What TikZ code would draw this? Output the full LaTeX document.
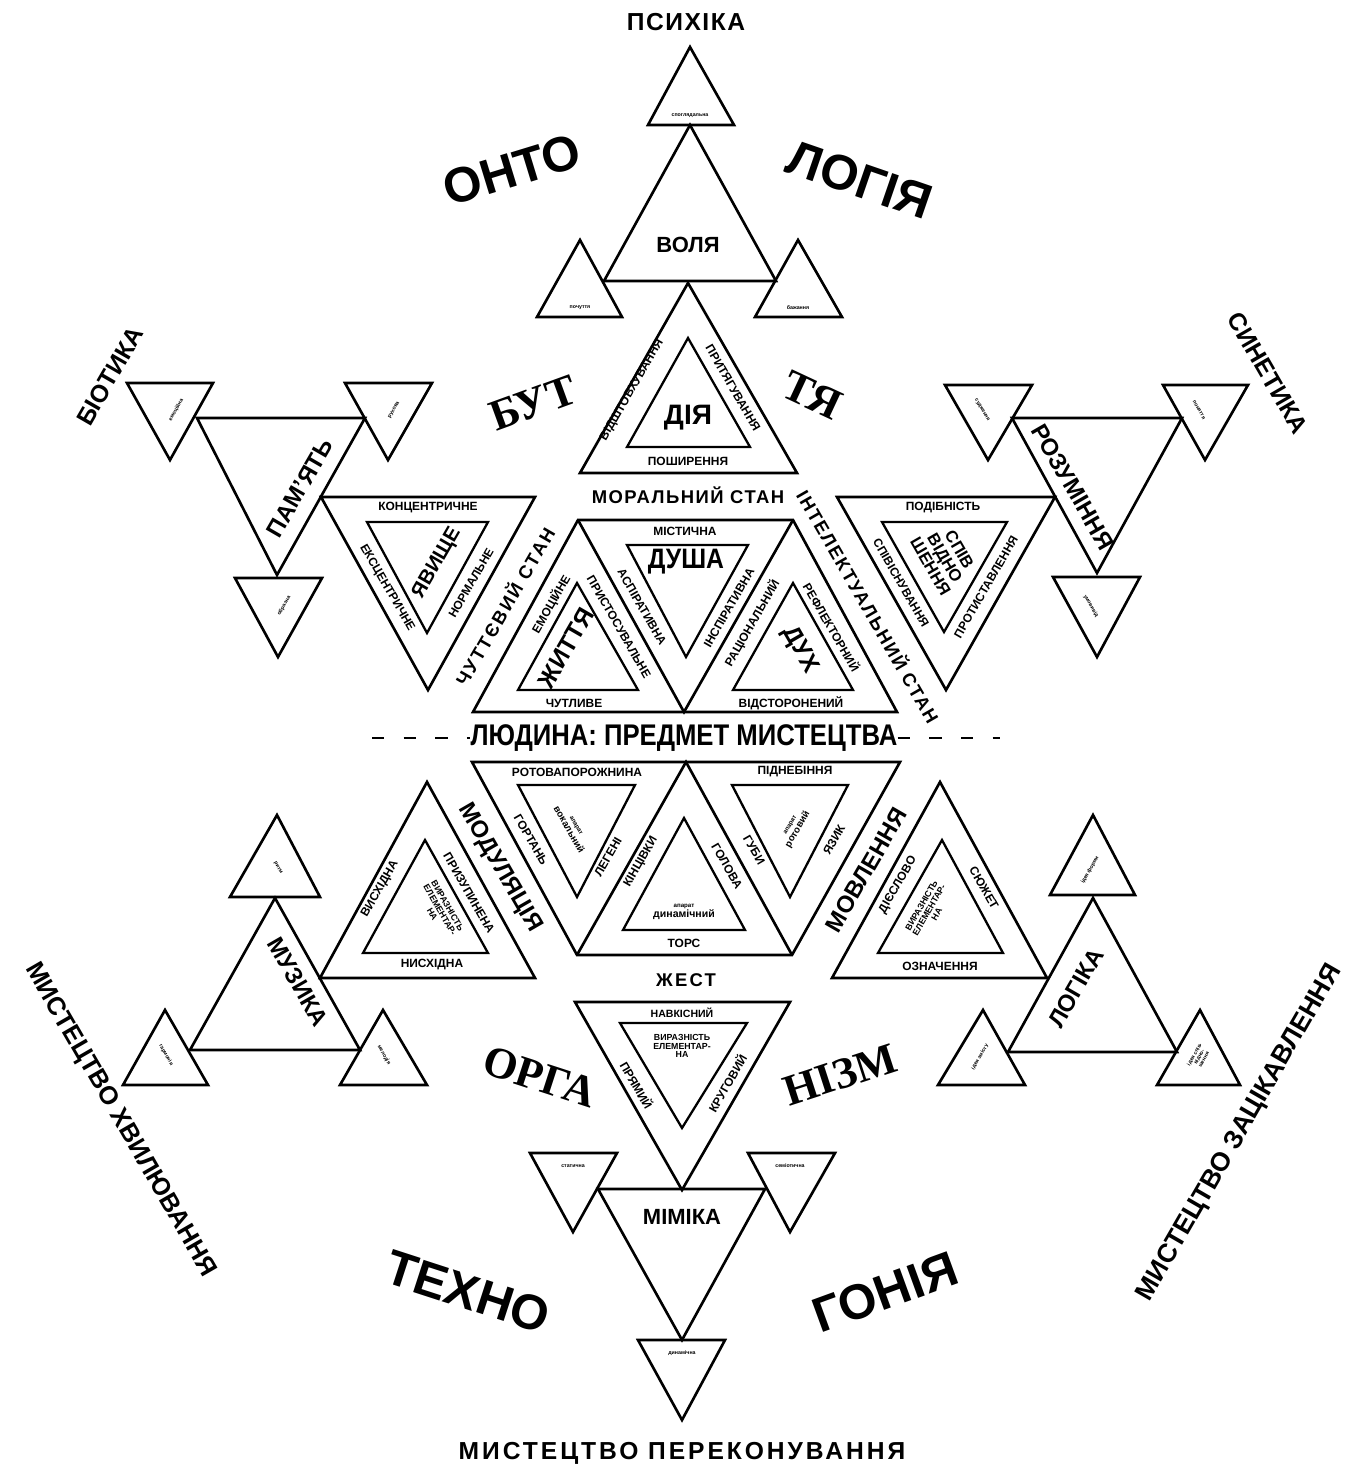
\documentclass[tikz,border=0pt]{standalone}
\usepackage{fontspec}
\usepackage{graphicx}
\setmainfont{Liberation Sans}
\newfontfamily\serifbf{Liberation Serif}
\newcommand{\fsz}[1]{\fontsize{#1}{#1}\selectfont}

\begin{document}
\begin{tikzpicture}[x=0.2mm,y=-0.2mm,
  every node/.style={inner sep=0pt,align=center,font=\bfseries},
  tri/.style={draw=black,line width=1.5pt,line join=miter},
  itri/.style={draw=black,line width=1.3pt,line join=miter},
  tiny/.style={font=\bfseries\fsz{3}},
  edge/.style={font=\bfseries\fsz{6.8}},
  stan/.style={font=\bfseries\fsz{10.5}\addfontfeature{LetterSpace=12}},
  head/.style={font=\bfseries\fsz{13.5}},
  core/.style={font=\bfseries\fsz{16}},
  arcw/.style={font=\bfseries\fsz{28}},
  arcs/.style={font=\serifbf\bfseries\fsz{25}},
  side/.style={font=\bfseries\fsz{14}}
]
\useasboundingbox (0,0) rectangle (1356,1474);

% --- psychic / will
\draw[tri] (690,47) -- (734,125) -- (648,125) -- cycle;
\draw[tri] (690,125) -- (776,281) -- (604,281) -- cycle;
\draw[tri] (580,240) -- (622,317) -- (537,317) -- cycle;
\draw[tri] (798,240) -- (842,317) -- (755,317) -- cycle;
\node[side,font=\bfseries\fsz{14}\addfontfeature{LetterSpace=6}] (psy) at (686,22) {ПСИХІКА};
\node[tiny] (t1) at (690,116) {споглядальна};
\node[tiny] (t2) at (580,308) {почуття};
\node[tiny] (t3) at (798,308) {бажання};
\node[head,font=\bfseries\fsz{12.5}] (volya) at (688,245) {ВОЛЯ};
\node[arcw,rotate=17] (onto) at (512,170) {ОНТО};
\node[arcw,rotate=-19] (logiya) at (860,180) {ЛОГІЯ};

% --- action
\draw[tri] (688,283) -- (797,473) -- (580,473) -- cycle;
\draw[itri] (688,338) -- (750,447) -- (627,447) -- cycle;
\node[core] (diya) at (688,418) {ДІЯ};
\node[edge] (posh) at (688,461) {ПОШИРЕННЯ};
\node[edge,rotate=60] (vidsh) at (632,390) {ВІДШТОВХУВАННЯ};
\node[edge,rotate=-60] (prit) at (733,388) {ПРИТЯГУВАННЯ};
\node[arcs,rotate=20] (but) at (533,403) {БУТ};
\node[arcs,rotate=-25] (tya) at (812,395) {ТЯ};
\node[stan,font=\bfseries\fsz{10.5}\addfontfeature{LetterSpace=8}] (moral) at (688,495) {МОРАЛЬНИЙ СТАН};

% --- memory
\draw[tri] (197,418) -- (365,418) -- (277,575) -- cycle;
\draw[tri] (127,383) -- (213,383) -- (170,460) -- cycle;
\draw[tri] (345,383) -- (432,383) -- (388,460) -- cycle;
\draw[tri] (235,578) -- (322,578) -- (278,657) -- cycle;
\node[tiny,rotate=60] (m1) at (176,410) {емоційна};
\node[tiny,rotate=60] (m2) at (394,410) {рухова};
\node[tiny,rotate=60] (m3) at (284,606) {образна};
\node[head,rotate=60] (pamyat) at (300,488) {ПАМ’ЯТЬ};
\node[side,rotate=60] (bio) at (110,376) {БІОТИКА};

% --- phenomenon
\draw[tri] (321,497) -- (535,497) -- (428,690) -- cycle;
\draw[itri] (367,522) -- (488,522) -- (427,633) -- cycle;
\node[edge] (konc) at (428,508) {КОНЦЕНТРИЧНЕ};
\node[edge,rotate=-60] (eksc) at (387,588) {ЕКСЦЕНТРИЧНЕ};
\node[edge,rotate=60] (norm) at (471,583) {НОРМАЛЬНЕ};
\node[head,font=\bfseries\fsz{11.5},rotate=60] (yav) at (437,563) {ЯВИЩЕ};
\node[stan,rotate=60] (chutt) at (504,606) {ЧУТТЄВИЙ СТАН};

% --- understanding
\draw[tri] (1012,418) -- (1182,418) -- (1097,573) -- cycle;
\draw[tri] (945,385) -- (1032,385) -- (988,460) -- cycle;
\draw[tri] (1163,385) -- (1248,385) -- (1205,460) -- cycle;
\draw[tri] (1053,577) -- (1140,577) -- (1097,657) -- cycle;
\node[tiny,rotate=-60] (r1) at (982,410) {судження};
\node[tiny,rotate=-60] (r2) at (1199,410) {поняття};
\node[tiny,rotate=-60] (r3) at (1091,606) {умовивід};
\node[head,rotate=-60] (rozum) at (1073,487) {РОЗУМІННЯ};
\node[side,rotate=-60] (sin) at (1268,373) {СИНЕТИКА};

% --- relation
\draw[tri] (837,497) -- (1055,497) -- (946,690) -- cycle;
\draw[itri] (882,522) -- (1007,522) -- (944,632) -- cycle;
\node[edge] (podib) at (943,508) {ПОДІБНІСТЬ};
\node[edge,rotate=-60] (spivis) at (901,583) {СПІВІСНУВАННЯ};
\node[edge,rotate=60] (protyst) at (986,587) {ПРОТИСТАВЛЕННЯ};
\node[font=\bfseries\fsz{9.5},rotate=-60] (spivv) at (945,558) {СПІВ\\ВІДНО\\ШЕННЯ};
\node[stan,font=\bfseries\fsz{10.5}\addfontfeature{LetterSpace=9},rotate=-60] (intel) at (869,606) {ІНТЕЛЕКТУАЛЬНИЙ СТАН};

% --- upper trapezoid
\draw[tri] (473,712) -- (578,520) -- (793,520) -- (897,712) -- cycle;
\draw[tri] (578,520) -- (684,712) -- (793,520);
\draw[itri] (577,583) -- (638,690) -- (518,690) -- cycle;
\draw[itri] (627,545) -- (748,545) -- (686,657) -- cycle;
\draw[itri] (793,583) -- (853,690) -- (733,690) -- cycle;
\node[edge] (mist) at (685,531) {МІСТИЧНА};
\node[core] (dusha) at (686,562) {\scalebox{0.88}[1]{ДУША}};
\node[edge,rotate=-60] (aspir) at (642,607) {АСПІРАТИВНА};
\node[edge,rotate=60] (inspir) at (729,608) {ІНСПІРАТИВНА};
\node[edge,rotate=60] (emoc) at (551,604) {ЕМОЦІЙНЕ};
\node[edge,rotate=-60] (pryst) at (619,627) {ПРИСТОСУВАЛЬНЕ};
\node[edge] (chutl) at (574,703) {ЧУТЛИВЕ};
\node[core,font=\bfseries\fsz{14},rotate=60] (zhyt) at (566,648) {ЖИТТЯ};
\node[edge,rotate=60] (rac) at (752,623) {РАЦІОНАЛЬНИЙ};
\node[edge,rotate=-60] (refl) at (832,627) {РЕФЛЕКТОРНИЙ};
\node[edge] (vidst) at (791,703) {ВІДСТОРОНЕНИЙ};
\node[core,font=\bfseries\fsz{14},rotate=-60] (duh) at (800,650) {ДУХ};

% --- centre line
\node[core,font=\bfseries\fsz{17}] (lyud) at (684,738) {\scalebox{0.86}[1]{ЛЮДИНА: ПРЕДМЕТ МИСТЕЦТВА}};
\coordinate (dl) at (372,738);
\coordinate (dr) at (1000,738);
\draw[line width=0.8pt,dash pattern=on 7pt off 11pt] (dl) -- (lyud.west);
\draw[line width=0.8pt,dash pattern=on 7pt off 11pt] (lyud.east) -- (dr);

% --- lower trapezoid
\draw[tri] (472,762) -- (900,762) -- (792,955) -- (577,955) -- cycle;
\draw[tri] (577,955) -- (686,762) -- (792,955);
\draw[itri] (518,785) -- (635,785) -- (577,897) -- cycle;
\draw[itri] (684,818) -- (745,930) -- (623,930) -- cycle;
\draw[itri] (732,785) -- (848,785) -- (790,897) -- cycle;
\node[edge] (rotpor) at (577,772) {РОТОВАПОРОЖНИНА};
\node[edge] (pidn) at (795,772) {ПІДНЕБІННЯ};
\node[edge,rotate=-60] (gort) at (531,840) {ГОРТАНЬ};
\node[edge,font=\bfseries\fsz{5.5},rotate=-60] (vokal) at (572,828) {{\fsz{3.5}апарат}\\вокальний};
\node[edge,rotate=60] (legen) at (608,857) {ЛЕГЕНІ};
\node[edge,rotate=60] (kinc) at (641,862) {КІНЦІВКИ};
\node[edge,rotate=-60] (golov) at (727,866) {ГОЛОВА};
\node[edge,rotate=-60] (guby) at (754,850) {ГУБИ};
\node[edge,font=\bfseries\fsz{5.5},rotate=60] (rotov) at (795,828) {{\fsz{3.5}апарат}\\ротовий};
\node[edge,rotate=60] (yazyk) at (834,840) {ЯЗИК};
\node[edge,font=\bfseries\fsz{6}] (dynam) at (684,912) {{\fsz{3.5}апарат}\\динамічний};
\node[edge] (tors) at (684,943) {ТОРС};

% --- modulation
\draw[tri] (427,782) -- (535,978) -- (320,978) -- cycle;
\draw[itri] (425,840) -- (488,953) -- (363,953) -- cycle;
\node[head,rotate=-60] (modul) at (500,868) {МОДУЛЯЦІЯ};
\node[edge,rotate=-60] (pryz) at (469,893) {ПРИЗУПИНЕНА};
\node[edge,rotate=60] (vysh) at (380,889) {ВИСХІДНА};
\node[edge] (nysh) at (432,965) {НИСХІДНА};
\node[edge,font=\bfseries\fsz{5},rotate=-60] (vyr1) at (440,910) {ВИРАЗНІСТЬ\\ЕЛЕМЕНТАР-\\НА};

% --- music
\draw[tri] (275,898) -- (360,1050) -- (190,1050) -- cycle;
\draw[tri] (277,815) -- (320,897) -- (230,897) -- cycle;
\draw[tri] (165,1010) -- (208,1085) -- (123,1085) -- cycle;
\draw[tri] (383,1010) -- (427,1085) -- (340,1085) -- cycle;
\node[tiny,rotate=-60] (mu1) at (278,868) {ритм};
\node[tiny,rotate=-60] (mu2) at (166,1055) {гармонія};
\node[tiny,rotate=-60] (mu3) at (384,1055) {мелодія};
\node[head,rotate=-60] (muz) at (298,982) {МУЗИКА};
\node[side,font=\bfseries\fsz{14.5},rotate=-60] (mhv) at (120,1120) {МИСТЕЦТВО ХВИЛЮВАННЯ};

% --- speech
\draw[tri] (940,782) -- (1047,978) -- (832,978) -- cycle;
\draw[itri] (942,840) -- (1003,953) -- (878,953) -- cycle;
\node[head,rotate=60] (movl) at (866,870) {МОВЛЕННЯ};
\node[edge,rotate=60] (dies) at (898,885) {ДІЄСЛОВО};
\node[edge,rotate=-60] (syuzh) at (984,888) {СЮЖЕТ};
\node[edge] (ozn) at (940,966) {ОЗНАЧЕННЯ};
\node[edge,font=\bfseries\fsz{5},rotate=60] (vyr2) at (929,910) {ВИРАЗНІСТЬ\\ЕЛЕМЕНТАР-\\НА};

% --- logic
\draw[tri] (1093,898) -- (1177,1052) -- (1008,1052) -- cycle;
\draw[tri] (1093,815) -- (1135,895) -- (1050,895) -- cycle;
\draw[tri] (983,1010) -- (1025,1085) -- (938,1085) -- cycle;
\draw[tri] (1200,1010) -- (1240,1085) -- (1157,1085) -- cycle;
\node[tiny,rotate=60] (l1) at (1090,870) {ідея форми};
\node[tiny,rotate=60] (l2) at (980,1057) {ідея змісту};
\node[tiny,rotate=60] (l3) at (1199,1057) {ідея спів-\\відно-\\шення};
\node[head,rotate=60] (logika) at (1076,988) {ЛОГІКА};
\node[side,font=\bfseries\fsz{15},rotate=60] (mzac) at (1240,1133) {МИСТЕЦТВО ЗАЦІКАВЛЕННЯ};

% --- gesture / mimic
\node[stan] (zhest) at (686,980) {ЖЕСТ};
\draw[tri] (575,1002) -- (790,1002) -- (682,1190) -- cycle;
\draw[itri] (620,1023) -- (747,1023) -- (682,1128) -- cycle;
\node[edge,font=\bfseries\fsz{6}] (navk) at (682,1013) {НАВКІСНИЙ};
\node[edge,font=\bfseries\fsz{5}] (vyr3) at (682,1046) {ВИРАЗНІСТЬ\\ЕЛЕМЕНТАР-\\НА};
\node[edge,rotate=-60] (pryam) at (637,1085) {ПРЯМИЙ};
\node[edge,rotate=60] (krug) at (727,1083) {КРУГОВИЙ};
\draw[tri] (598,1189) -- (765,1189) -- (682,1340) -- cycle;
\draw[tri] (530,1153) -- (617,1153) -- (573,1232) -- cycle;
\draw[tri] (748,1153) -- (835,1153) -- (790,1232) -- cycle;
\draw[tri] (638,1340) -- (725,1340) -- (682,1420) -- cycle;
\node[head,font=\bfseries\fsz{12.5}] (mimika) at (682,1217) {МІМІКА};
\node[tiny] (g1) at (573,1166) {статична};
\node[tiny] (g2) at (790,1166) {семіотична};
\node[tiny] (g3) at (682,1353) {динамічна};
\node[arcs,rotate=-18] (orga) at (540,1077) {ОРГА};
\node[arcs,rotate=18] (nizm) at (840,1075) {НІЗМ};
\node[arcw,rotate=-18] (tehno) at (468,1292) {ТЕХНО};
\node[arcw,rotate=20] (goniya) at (885,1292) {ГОНІЯ};
\node[side,font=\bfseries\fsz{14}\addfontfeature{LetterSpace=12}] (mper) at (682,1453) {МИСТЕЦТВО ПЕРЕКОНУВАННЯ};
\end{tikzpicture}
\end{document}
